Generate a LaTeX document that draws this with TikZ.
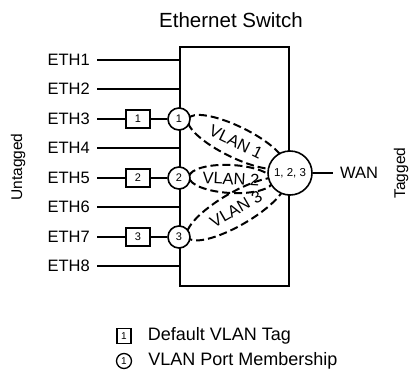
\documentclass[tikz,border=0pt]{standalone}
\usepackage{fontspec}
\setmainfont{Liberation Sans}
\usetikzlibrary{shapes,positioning,calc}

\begin{document}
\begin{tikzpicture}[
    x=1pt, y=-1pt,
    lbl/.style={inner sep=0pt, font=\fontsize{16.5}{18}\selectfont},
    port/.style={lbl, anchor=east},
    legend/.style={inner sep=0pt, anchor=west, font=\fontsize{18}{20}\selectfont},
    tagbox/.style={rectangle, draw, fill=white, line width=1.3pt, minimum width=24pt,
                minimum height=18pt, inner sep=0pt, font=\fontsize{11}{12}\selectfont},
    member/.style={circle, draw, fill=white, line width=1.6pt, minimum size=22pt,
                inner sep=0pt, font=\fontsize{11}{12}\selectfont},
    vlan/.style={ellipse, draw, dash pattern=on 8pt off 4pt, line width=2pt,
                inner sep=0pt, font=\fontsize{16.5}{18}\selectfont},
    wire/.style={line width=1.6pt}
]
    \useasboundingbox (0,0) rectangle (409,378);

    \node[font=\fontsize{20.5}{22}\selectfont] (title) at (231,20) {Ethernet Switch};
    \node[draw, line width=1.8pt, minimum width=109pt, minimum height=239pt, inner sep=0pt] (sw) at (234.5,166.5) {};

    % ports
    \node[port] (eth1) at (90,60) {ETH1};
    \node[port] (eth2) at (90,89) {ETH2};
    \node[port] (eth3) at (90,119) {ETH3};
    \node[port] (eth4) at (90,148) {ETH4};
    \node[port] (eth5) at (90,178) {ETH5};
    \node[port] (eth6) at (90,207) {ETH6};
    \node[port] (eth7) at (90,237) {ETH7};
    \node[port] (eth8) at (90,266) {ETH8};

    \draw[wire] ([xshift=7pt]eth1.east) -- (eth1 -| sw.west);
    \draw[wire] ([xshift=7pt]eth2.east) -- (eth2 -| sw.west);
    \draw[wire] ([xshift=7pt]eth4.east) -- (eth4 -| sw.west);
    \draw[wire] ([xshift=7pt]eth6.east) -- (eth6 -| sw.west);
    \draw[wire] ([xshift=7pt]eth8.east) -- (eth8 -| sw.west);

    % vlans
    \node[vlan, minimum width=106pt, minimum height=31pt, rotate=-26] (vlan1) at (236,142) {VLAN 1};
    \node[vlan, minimum width=84pt, minimum height=28pt, rotate=-3] (vlan2) at (231,179) {VLAN 2};
    \node[vlan, minimum width=112pt, minimum height=33pt, rotate=30] (vlan3) at (236,209) {VLAN 3};

    % tags and memberships
    \node[tagbox] (tag1) at (138,119) {1};
    \node[tagbox] (tag2) at (138,178) {2};
    \node[tagbox] (tag3) at (138,237) {3};
    \node[member] (mem1) at (179,119) {1};
    \node[member] (mem2) at (179,178) {2};
    \node[member] (mem3) at (179,237) {3};

    \draw[wire] ([xshift=7pt]eth3.east) -- (tag1);
    \draw[wire] ([xshift=7pt]eth5.east) -- (tag2);
    \draw[wire] ([xshift=7pt]eth7.east) -- (tag3);
    \draw[wire] (tag1) -- (mem1);
    \draw[wire] (tag2) -- (mem2);
    \draw[wire] (tag3) -- (mem3);

    \node[member, minimum size=44pt, font=\fontsize{11.5}{12}\selectfont] (hub) at (290,173) {1, 2, 3};
    \node[lbl, anchor=west] (wan) at (340,173) {WAN};
    \draw[wire] (hub) -- ([xshift=-7pt]wan.west);

    \node[lbl, rotate=90, font=\fontsize{15.5}{17}\selectfont] (untagged) at (18,167) {Untagged};
    \node[lbl, rotate=90, font=\fontsize{15.5}{17}\selectfont] (tagged) at (401,173) {Tagged};

    % legend
    \node[tagbox, minimum width=14pt, minimum height=15pt, font=\fontsize{10}{11}\selectfont] (keytag) at (124,336) {1};
    \node[legend, right=16pt of keytag] (keytagtxt) {Default VLAN Tag};
    \node[member, minimum size=15pt, line width=1.3pt, font=\fontsize{10}{11}\selectfont] (keymem) at (124,361) {1};
    \node[legend, right=16pt of keymem] (keymemtxt) {VLAN Port Membership};
\end{tikzpicture}
\end{document}
